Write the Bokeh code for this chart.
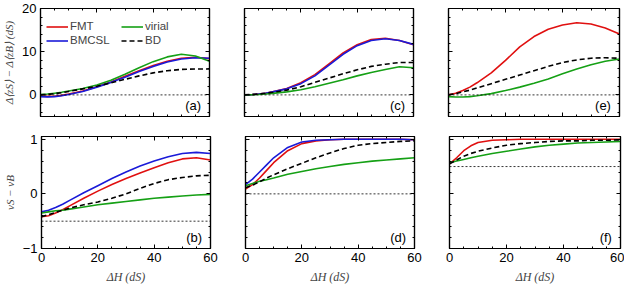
from bokeh.plotting import figure
from bokeh.layouts import column, row
from bokeh.models import (Range1d, LinearAxis, FixedTicker, Span, Label, Legend, LegendItem,
                          CustomLabelingPolicy)
from bokeh.embed import file_html
from bokeh.resources import INLINE

# ---------------- data ----------------
dH = [0, 2.5, 5, 7.5, 10, 15, 20, 25, 30, 35, 40, 45, 50, 55, 60]

# panel (a): Delta<z_S> - Delta<z_B>
a_fmt   = [-0.3, -0.35, -0.3, -0.1, 0.2, 0.9, 1.9, 3.0, 4.3, 5.6, 6.8, 7.8, 8.5, 8.7, 8.4]
a_bmcsl = [-0.4, -0.45, -0.4, -0.2, 0.1, 0.8, 1.8, 2.9, 4.1, 5.4, 6.6, 7.6, 8.3, 8.6, 8.5]
a_vir   = [0.1, 0.2, 0.4, 0.6, 0.9, 1.5, 2.3, 3.4, 4.8, 6.3, 7.7, 8.8, 9.4, 9.0, 7.8]
a_bd    = [0.0, 0.1, 0.3, 0.5, 0.8, 1.4, 2.0, 2.8, 3.6, 4.4, 5.1, 5.6, 5.9, 6.0, 6.0]
# panel (c)
c_fmt   = [0.0, 0.05, 0.2, 0.4, 0.7, 1.5, 2.8, 4.7, 7.2, 9.7, 11.6, 12.8, 13.1, 12.6, 11.6]
c_bmcsl = [0.0, 0.05, 0.2, 0.4, 0.7, 1.4, 2.6, 4.4, 6.9, 9.4, 11.4, 12.6, 13.0, 12.6, 11.7]
c_vir   = [0.0, 0.02, 0.1, 0.2, 0.35, 0.7, 1.2, 1.9, 2.7, 3.5, 4.4, 5.2, 5.9, 6.5, 6.3]
c_bd    = [0.0, 0.1, 0.2, 0.4, 0.6, 1.1, 1.9, 2.9, 3.9, 4.9, 5.8, 6.6, 7.1, 7.5, 7.5]
# panel (e)
e_fmt   = [0.0, 0.4, 1.0, 1.8, 2.8, 5.1, 8.0, 11.1, 13.5, 15.2, 16.2, 16.7, 16.4, 15.5, 14.1]
e_vir   = [-0.4, -0.5, -0.5, -0.4, -0.2, 0.3, 1.0, 1.8, 2.7, 3.7, 4.9, 6.0, 7.0, 7.8, 8.3]
e_bd    = [0.0, 0.3, 0.7, 1.1, 1.6, 2.6, 3.6, 4.6, 5.6, 6.6, 7.5, 8.1, 8.5, 8.6, 8.5]

# panel (b): nu_S - nu_B
b_fmt   = [-0.42, -0.4, -0.35, -0.29, -0.22, -0.08, 0.05, 0.17, 0.28, 0.38, 0.48, 0.57, 0.64, 0.66, 0.62]
b_bmcsl = [-0.33, -0.3, -0.25, -0.19, -0.12, 0.02, 0.15, 0.28, 0.4, 0.51, 0.6, 0.68, 0.74, 0.76, 0.74]
b_vir   = [-0.35, -0.33, -0.31, -0.3, -0.28, -0.24, -0.2, -0.17, -0.14, -0.11, -0.08, -0.06, -0.04, -0.02, -0.01]
b_bd    = [-0.42, -0.38, -0.34, -0.3, -0.26, -0.2, -0.15, -0.08, 0.0, 0.1, 0.19, 0.26, 0.3, 0.33, 0.34]
# panel (d)
d_fmt   = [0.09, 0.17, 0.29, 0.43, 0.57, 0.79, 0.92, 0.97, 0.99, 1.0, 1.0, 1.0, 1.0, 1.0, 0.99]
d_bmcsl = [0.17, 0.27, 0.4, 0.53, 0.66, 0.85, 0.95, 0.98, 0.99, 1.0, 1.0, 1.0, 1.0, 1.0, 0.99]
d_vir   = [0.15, 0.19, 0.23, 0.26, 0.29, 0.36, 0.41, 0.46, 0.5, 0.54, 0.57, 0.6, 0.62, 0.64, 0.66]
d_bd    = [0.11, 0.16, 0.22, 0.29, 0.35, 0.46, 0.56, 0.66, 0.75, 0.83, 0.89, 0.92, 0.94, 0.96, 0.97]
# panel (f)
f_fmt   = [0.55, 0.66, 0.79, 0.88, 0.94, 0.98, 0.99, 1.0, 1.0, 1.0, 1.0, 1.0, 1.0, 1.0, 1.0]
f_vir   = [0.57, 0.6, 0.63, 0.66, 0.69, 0.74, 0.78, 0.82, 0.86, 0.89, 0.91, 0.93, 0.94, 0.95, 0.96]
f_bd    = [0.55, 0.62, 0.69, 0.74, 0.78, 0.84, 0.89, 0.92, 0.94, 0.96, 0.97, 0.97, 0.98, 0.98, 0.99]

# reference (dotted) levels per panel
ref_top = [0, 0, 0]          # (a), (c), (e)
ref_bot = [-0.5, 0, 0.5]     # (b), (d), (f)

panel_labels_top = ["(a)", "(c)", "(e)"]
panel_labels_bot = ["(b)", "(d)", "(f)"]

x_ticks = [0, 20, 40, 60]
x_minor = [5 * i for i in range(13)]
top_ticks = [0, 10, 20]
top_minor = [-4 + 2 * i for i in range(13)]
bot_ticks = [-1, 0, 1]
bot_minor = [round(-1 + 0.2 * i, 2) for i in range(11)]

series_names = ["FMT", "BMCSL", "virial", "BD"]
COL = {"FMT": "#e01010", "BMCSL": "#1a1ad8", "virial": "#15a015", "BD": "black"}

top_data = [
    {"FMT": a_fmt, "BMCSL": a_bmcsl, "virial": a_vir, "BD": a_bd},
    {"FMT": c_fmt, "BMCSL": c_bmcsl, "virial": c_vir, "BD": c_bd},
    {"FMT": e_fmt, "virial": e_vir, "BD": e_bd},
]
bot_data = [
    {"FMT": b_fmt, "BMCSL": b_bmcsl, "virial": b_vir, "BD": b_bd},
    {"FMT": d_fmt, "BMCSL": d_bmcsl, "virial": d_vir, "BD": d_bd},
    {"FMT": f_fmt, "virial": f_vir, "BD": f_bd},
]

TICK_FONT = "Liberation Sans"
LABEL_FONT = "Liberation Serif"


def style_axis(ax, ticks, minor, show_labels, overrides=None):
    ax.ticker = FixedTicker(ticks=ticks, minor_ticks=minor)
    ax.major_tick_in = 4
    ax.major_tick_out = 0
    ax.minor_tick_in = 2
    ax.minor_tick_out = 0
    ax.axis_line_width = 1.2
    ax.axis_line_color = "black"
    ax.major_tick_line_color = "black"
    ax.minor_tick_line_color = "black"
    ax.major_tick_line_width = 1
    ax.minor_tick_line_width = 1
    if show_labels:
        ax.major_label_text_font = TICK_FONT
        ax.major_label_text_font_size = "13px"
        ax.major_label_text_color = "black"
        ax.major_label_standoff = 4
        if overrides:
            ax.major_label_overrides = overrides
    else:
        ax.major_label_text_font_size = "0px"
        ax.major_label_standoff = 0
        ax.major_label_policy = CustomLabelingPolicy(code="return []")


FRAME_W = [169, 169, 171]
FRAME_H = [108, 112]
YR = [(-5, 20), (-1, 1.05)]


def make_panel(data, col, rowi, ref, plabel):
    fw = FRAME_W[col]
    fh = FRAME_H[rowi]
    yr = YR[rowi]
    p = figure(frame_width=fw, frame_height=fh,
               x_range=Range1d(0, 60), y_range=Range1d(*yr),
               output_backend="svg", toolbar_location=None)
    p.min_border_left = 36 if col == 0 else 18
    p.min_border_right = 17 if col < 2 else 4
    p.min_border_top = 8 if rowi == 0 else 6
    p.min_border_bottom = 14 if rowi == 0 else 36
    p.xgrid.visible = False
    p.ygrid.visible = False
    p.outline_line_color = "black"
    p.outline_line_width = 1.2
    p.background_fill_color = "white"
    p.border_fill_color = "white"

    yt, ym = (top_ticks, top_minor) if rowi == 0 else (bot_ticks, bot_minor)
    xa = p.xaxis[0]
    ya = p.yaxis[0]
    style_axis(xa, x_ticks, x_minor, rowi == 1)
    style_axis(ya, yt, ym, col == 0, overrides={-1: "\u22121"} if rowi == 1 else None)
    top_ax = LinearAxis()
    right_ax = LinearAxis()
    style_axis(top_ax, x_ticks, x_minor, False)
    style_axis(right_ax, yt, ym, False)
    p.add_layout(top_ax, "above")
    p.add_layout(right_ax, "right")

    if rowi == 1:
        xa.axis_label = "\u0394H (dS)"
        xa.axis_label_text_font = LABEL_FONT
        xa.axis_label_text_font_style = "italic"
        xa.axis_label_text_font_size = "12px"
        xa.axis_label_standoff = 5
    if col == 0:
        ya.axis_label = ("\u0394\u27e8zS\u27e9 \u2212 \u0394\u27e8zB\u27e9 (dS)" if rowi == 0
                         else "\u03bdS \u2212 \u03bdB")
        ya.axis_label_text_font = LABEL_FONT
        ya.axis_label_text_font_style = "italic"
        ya.axis_label_text_font_size = "11px"
        ya.axis_label_standoff = 4

    p.add_layout(Span(location=ref, dimension="width", line_color="black",
                      line_width=0.8, line_dash="2 2"))

    rends = {}
    for name in series_names:
        if name not in data:
            continue
        dash = "5 3" if name == "BD" else "solid"
        rends[name] = p.line(dH, data[name], line_color=COL[name], line_width=1.6,
                             line_dash=dash)

    ybot = yr[0] + (yr[1] - yr[0]) * 4.0 / fh
    p.add_layout(Label(x=57, y=ybot, text=plabel, text_align="right",
                       text_baseline="bottom", text_font=TICK_FONT,
                       text_font_size="13px", text_color="black"))
    return p, rends


def make_legend(items, bottom):
    return Legend(items=items, location=(6, bottom), orientation="horizontal",
                  background_fill_alpha=0, border_line_alpha=0,
                  padding=0, margin=0, spacing=0,
                  glyph_width=22, glyph_height=11, label_height=11,
                  label_width=51, label_standoff=2,
                  label_text_font=TICK_FONT, label_text_font_size="11.5px")


figs_top = []
for c in range(3):
    p, rends = make_panel(top_data[c], c, 0, ref_top[c], panel_labels_top[c])
    if c == 0:
        row1 = [LegendItem(label="FMT", renderers=[rends["FMT"]]),
                LegendItem(label="virial", renderers=[rends["virial"]])]
        row2 = [LegendItem(label="BMCSL", renderers=[rends["BMCSL"]]),
                LegendItem(label="BD", renderers=[rends["BD"]])]
        p.add_layout(make_legend(row1, FRAME_H[0] - 24))
        p.add_layout(make_legend(row2, FRAME_H[0] - 38))
    figs_top.append(p)

figs_bot = []
for c in range(3):
    p, _ = make_panel(bot_data[c], c, 1, ref_bot[c], panel_labels_bot[c])
    figs_bot.append(p)

layout = column(row(*figs_top, spacing=0), row(*figs_bot, spacing=0), spacing=0)

open("out.html", "w").write(file_html(layout, INLINE))
